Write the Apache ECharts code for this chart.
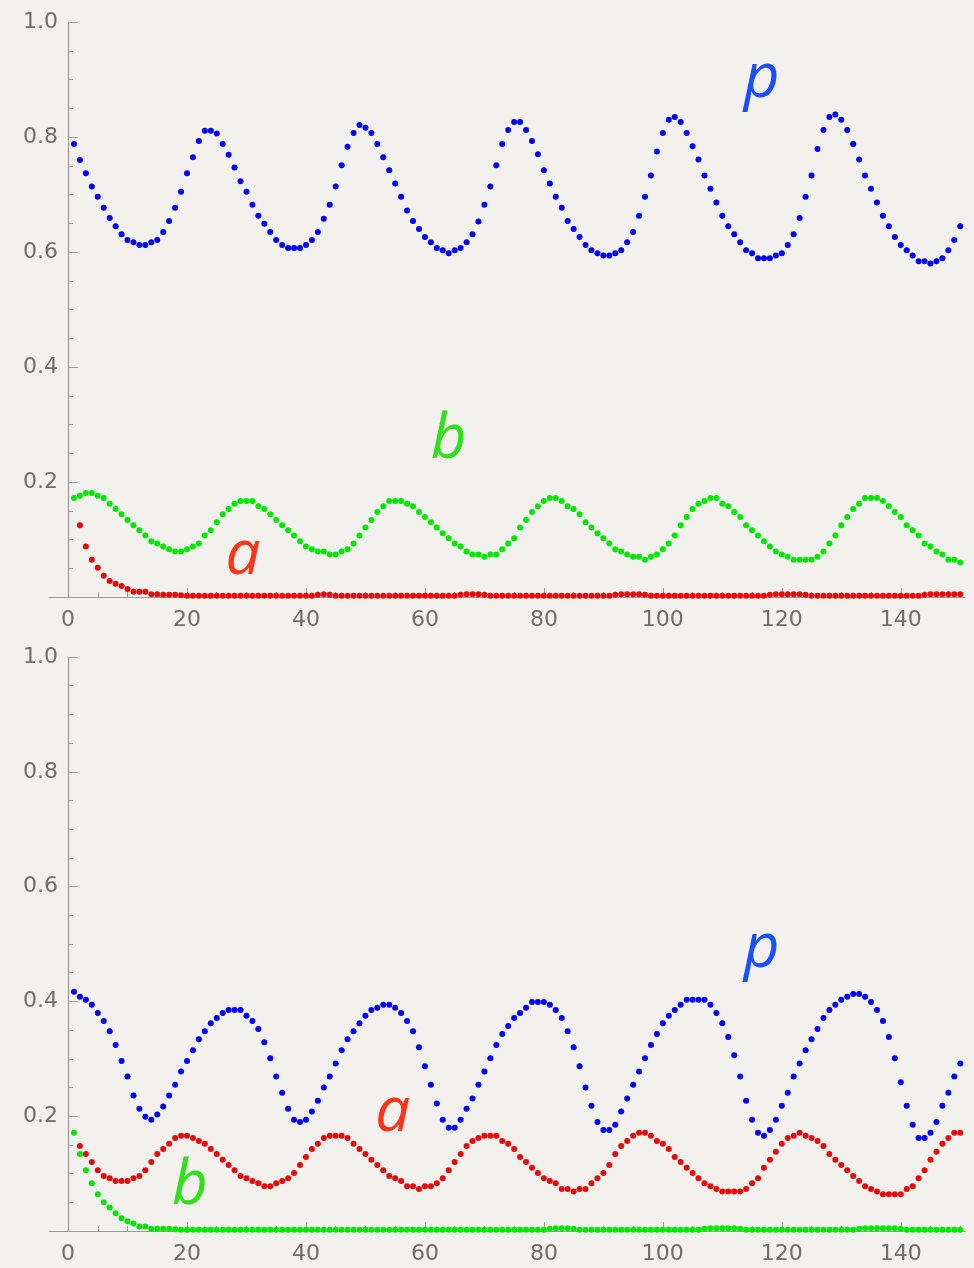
<!DOCTYPE html>
<html>
<head>
<meta charset="utf-8">
<script src="https://cdn.jsdelivr.net/npm/echarts@6/dist/echarts.min.js"></script>
<style>
  html, body { margin: 0; padding: 0; background: #f2f1ed; }
  #chart { width: 974px; height: 1268px; }
</style>
</head>
<body>
<div id="chart"></div>
<script>
// values at t = 1..150
const topP = [
  0.788, 0.760, 0.737, 0.714, 0.696, 0.677, 0.659, 0.645, 0.631, 0.621,
  0.617, 0.612, 0.612, 0.617, 0.621, 0.635, 0.654, 0.677, 0.705, 0.737,
  0.765, 0.793, 0.811, 0.811, 0.806, 0.788, 0.769, 0.747, 0.723, 0.705,
  0.682, 0.663, 0.649, 0.635, 0.621, 0.612, 0.607, 0.607, 0.607, 0.612,
  0.621, 0.635, 0.658, 0.682, 0.714, 0.751, 0.783, 0.807, 0.821, 0.816,
  0.807, 0.788, 0.765, 0.742, 0.719, 0.696, 0.672, 0.654, 0.640, 0.626,
  0.617, 0.607, 0.603, 0.598, 0.603, 0.607, 0.617, 0.631, 0.653, 0.682,
  0.714, 0.751, 0.788, 0.812, 0.826, 0.826, 0.812, 0.793, 0.770, 0.742,
  0.719, 0.696, 0.677, 0.654, 0.640, 0.626, 0.612, 0.603, 0.598, 0.594,
  0.594, 0.598, 0.603, 0.617, 0.635, 0.663, 0.696, 0.733, 0.775, 0.807,
  0.830, 0.835, 0.826, 0.807, 0.784, 0.761, 0.733, 0.710, 0.686, 0.663,
  0.645, 0.631, 0.617, 0.603, 0.598, 0.589, 0.589, 0.589, 0.594, 0.598,
  0.612, 0.631, 0.659, 0.696, 0.733, 0.779, 0.812, 0.835, 0.839, 0.830,
  0.812, 0.788, 0.761, 0.733, 0.710, 0.686, 0.663, 0.645, 0.626, 0.612,
  0.603, 0.594, 0.584, 0.584, 0.580, 0.584, 0.589, 0.603, 0.621, 0.645
];
const topB = [
  0.172, 0.176, 0.181, 0.181, 0.176, 0.172, 0.162, 0.153, 0.144, 0.134,
  0.125, 0.116, 0.107, 0.097, 0.093, 0.088, 0.083, 0.079, 0.079, 0.083,
  0.088, 0.093, 0.107, 0.116, 0.130, 0.144, 0.153, 0.162, 0.167, 0.167,
  0.167, 0.158, 0.153, 0.144, 0.134, 0.125, 0.116, 0.107, 0.097, 0.088,
  0.083, 0.079, 0.079, 0.074, 0.074, 0.079, 0.083, 0.093, 0.107, 0.121,
  0.134, 0.148, 0.158, 0.167, 0.167, 0.167, 0.162, 0.158, 0.148, 0.139,
  0.130, 0.121, 0.111, 0.102, 0.093, 0.088, 0.079, 0.074, 0.074, 0.070,
  0.074, 0.074, 0.083, 0.093, 0.102, 0.121, 0.134, 0.148, 0.158, 0.167,
  0.172, 0.172, 0.167, 0.158, 0.153, 0.144, 0.130, 0.121, 0.111, 0.102,
  0.093, 0.083, 0.079, 0.074, 0.070, 0.070, 0.065, 0.070, 0.074, 0.083,
  0.093, 0.107, 0.125, 0.139, 0.153, 0.162, 0.167, 0.172, 0.172, 0.162,
  0.158, 0.148, 0.139, 0.125, 0.116, 0.107, 0.097, 0.088, 0.079, 0.074,
  0.070, 0.065, 0.065, 0.065, 0.065, 0.070, 0.079, 0.093, 0.107, 0.125,
  0.139, 0.153, 0.162, 0.172, 0.172, 0.172, 0.167, 0.158, 0.148, 0.139,
  0.125, 0.116, 0.107, 0.093, 0.088, 0.079, 0.074, 0.065, 0.065, 0.060
];
const topA = [
  null,  0.125, 0.088, 0.065, 0.051, 0.037, 0.028, 0.023, 0.019, 0.014,
  0.009, 0.009, 0.009, 0.005, 0.005, 0.004, 0.004, 0.004, 0.003, 0.002,
  0.002, 0.002, 0.002, 0.002, 0.002, 0.002, 0.002, 0.002, 0.002, 0.002,
  0.002, 0.002, 0.002, 0.002, 0.002, 0.002, 0.002, 0.002, 0.002, 0.002,
  0.002, 0.004, 0.005, 0.004, 0.002, 0.002, 0.002, 0.002, 0.002, 0.002,
  0.002, 0.002, 0.002, 0.002, 0.002, 0.002, 0.002, 0.002, 0.002, 0.002,
  0.002, 0.002, 0.002, 0.002, 0.002, 0.004, 0.005, 0.005, 0.005, 0.004,
  0.002, 0.002, 0.002, 0.002, 0.002, 0.002, 0.002, 0.002, 0.002, 0.002,
  0.002, 0.002, 0.002, 0.002, 0.002, 0.002, 0.002, 0.002, 0.002, 0.002,
  0.002, 0.004, 0.005, 0.005, 0.005, 0.005, 0.004, 0.002, 0.002, 0.002,
  0.002, 0.002, 0.002, 0.002, 0.002, 0.002, 0.002, 0.002, 0.002, 0.002,
  0.002, 0.002, 0.002, 0.002, 0.002, 0.002, 0.002, 0.004, 0.005, 0.005,
  0.005, 0.005, 0.005, 0.004, 0.002, 0.002, 0.002, 0.002, 0.002, 0.002,
  0.002, 0.002, 0.002, 0.002, 0.002, 0.002, 0.002, 0.002, 0.002, 0.002,
  0.002, 0.002, 0.002, 0.004, 0.005, 0.005, 0.005, 0.005, 0.005, 0.005
];

const botP = [
  0.417, 0.408, 0.403, 0.394, 0.380, 0.366, 0.348, 0.324, 0.296, 0.269,
  0.236, 0.213, 0.199, 0.194, 0.203, 0.217, 0.236, 0.255, 0.278, 0.296,
  0.315, 0.334, 0.348, 0.362, 0.371, 0.380, 0.385, 0.385, 0.385, 0.375,
  0.366, 0.352, 0.329, 0.301, 0.269, 0.241, 0.213, 0.194, 0.190, 0.194,
  0.208, 0.227, 0.250, 0.269, 0.292, 0.315, 0.334, 0.348, 0.362, 0.375,
  0.385, 0.389, 0.394, 0.394, 0.389, 0.380, 0.366, 0.348, 0.320, 0.287,
  0.255, 0.222, 0.194, 0.180, 0.180, 0.194, 0.213, 0.231, 0.255, 0.278,
  0.301, 0.324, 0.343, 0.357, 0.371, 0.380, 0.389, 0.399, 0.399, 0.399,
  0.394, 0.385, 0.371, 0.348, 0.320, 0.287, 0.250, 0.218, 0.190, 0.176,
  0.176, 0.185, 0.208, 0.231, 0.255, 0.278, 0.301, 0.324, 0.343, 0.362,
  0.375, 0.385, 0.394, 0.403, 0.403, 0.403, 0.403, 0.394, 0.380, 0.362,
  0.338, 0.306, 0.269, 0.227, 0.194, 0.171, 0.166, 0.176, 0.194, 0.218,
  0.241, 0.269, 0.292, 0.315, 0.334, 0.352, 0.371, 0.385, 0.394, 0.403,
  0.408, 0.413, 0.413, 0.408, 0.399, 0.385, 0.366, 0.338, 0.301, 0.259,
  0.218, 0.185, 0.162, 0.162, 0.171, 0.190, 0.218, 0.241, 0.269, 0.292
];
const botA = [
  null,  0.148, 0.134, 0.120, 0.106, 0.096, 0.092, 0.087, 0.087, 0.087,
  0.092, 0.096, 0.106, 0.120, 0.134, 0.143, 0.152, 0.162, 0.166, 0.166,
  0.162, 0.157, 0.152, 0.143, 0.134, 0.124, 0.115, 0.106, 0.096, 0.092,
  0.087, 0.083, 0.078, 0.078, 0.083, 0.087, 0.092, 0.101, 0.115, 0.129,
  0.143, 0.152, 0.162, 0.166, 0.166, 0.166, 0.162, 0.152, 0.143, 0.134,
  0.124, 0.115, 0.106, 0.096, 0.092, 0.087, 0.078, 0.078, 0.073, 0.078,
  0.078, 0.083, 0.092, 0.106, 0.120, 0.134, 0.148, 0.157, 0.162, 0.166,
  0.166, 0.166, 0.157, 0.152, 0.143, 0.129, 0.120, 0.110, 0.101, 0.092,
  0.087, 0.083, 0.073, 0.073, 0.069, 0.073, 0.073, 0.083, 0.092, 0.101,
  0.115, 0.134, 0.148, 0.157, 0.166, 0.171, 0.171, 0.166, 0.157, 0.152,
  0.143, 0.129, 0.120, 0.110, 0.101, 0.092, 0.083, 0.078, 0.073, 0.069,
  0.069, 0.069, 0.069, 0.073, 0.083, 0.092, 0.110, 0.124, 0.138, 0.152,
  0.162, 0.166, 0.171, 0.166, 0.162, 0.157, 0.148, 0.134, 0.124, 0.115,
  0.106, 0.096, 0.087, 0.078, 0.073, 0.069, 0.064, 0.064, 0.064, 0.064,
  0.073, 0.078, 0.092, 0.106, 0.124, 0.138, 0.152, 0.162, 0.171, 0.171
];
const botB = [
  0.171, 0.134, 0.106, 0.083, 0.064, 0.050, 0.041, 0.031, 0.022, 0.017,
  0.013, 0.008, 0.008, 0.004, 0.004, 0.004, 0.004, 0.003, 0.002, 0.002,
  0.002, 0.002, 0.002, 0.002, 0.002, 0.002, 0.002, 0.002, 0.002, 0.002,
  0.002, 0.002, 0.002, 0.002, 0.002, 0.002, 0.002, 0.002, 0.002, 0.002,
  0.002, 0.002, 0.002, 0.002, 0.002, 0.002, 0.002, 0.002, 0.002, 0.002,
  0.002, 0.002, 0.002, 0.002, 0.002, 0.002, 0.002, 0.002, 0.002, 0.002,
  0.002, 0.002, 0.002, 0.002, 0.002, 0.002, 0.002, 0.002, 0.002, 0.002,
  0.002, 0.002, 0.002, 0.002, 0.002, 0.002, 0.002, 0.002, 0.002, 0.002,
  0.004, 0.005, 0.005, 0.005, 0.004, 0.002, 0.002, 0.002, 0.002, 0.002,
  0.002, 0.002, 0.002, 0.002, 0.002, 0.002, 0.002, 0.002, 0.002, 0.002,
  0.002, 0.002, 0.002, 0.002, 0.002, 0.002, 0.004, 0.005, 0.005, 0.005,
  0.005, 0.005, 0.004, 0.002, 0.002, 0.002, 0.002, 0.002, 0.002, 0.002,
  0.002, 0.002, 0.002, 0.002, 0.002, 0.002, 0.002, 0.002, 0.002, 0.002,
  0.002, 0.002, 0.004, 0.005, 0.005, 0.005, 0.005, 0.005, 0.005, 0.004,
  0.002, 0.002, 0.002, 0.002, 0.002, 0.002, 0.002, 0.002, 0.002, 0.002
];

const xTicks = [0, 20, 40, 60, 80, 100, 120, 140];

const BLUE = '#0000ff';
const GREEN = '#00e800';
const RED = '#e80a0a';
const axisGray = '#9a9a9a';
const labelGray = '#6e6e6e';
const tickFont = "'DejaVu Sans', sans-serif";

// t = index + 1, nulls dropped
function pts(arr) {
  return arr.map((v, i) => [i + 1, v]).filter(d => d[1] !== null);
}

function xAxisFor(gridIndex) {
  return {
    type: 'value', gridIndex,
    min: -3.2, max: 150.8, splitNumber: 8,
    axisLine: { onZero: false, lineStyle: { color: axisGray, width: 1.2 } },
    axisTick: { inside: true, length: 9, customValues: xTicks, lineStyle: { color: axisGray } },
    minorTick: { show: true, splitNumber: 4, length: 5, lineStyle: { color: axisGray } },
    axisLabel: { customValues: xTicks, margin: 12, color: labelGray, fontFamily: tickFont, fontSize: 22 },
    splitLine: { show: false },
    minorSplitLine: { show: false },
  };
}

function yAxisFor(gridIndex) {
  return {
    type: 'value', gridIndex,
    min: 0, max: 1, interval: 0.2,
    axisLine: { show: true, onZero: true, lineStyle: { color: axisGray, width: 1.2 } },
    axisTick: { show: true, inside: true, length: 10, lineStyle: { color: axisGray } },
    minorTick: { show: true, splitNumber: 4, length: 5, lineStyle: { color: axisGray } },
    // labels are laid out from the grid edge, not from the shifted axis line
    axisLabel: {
      showMinLabel: false, margin: -9, color: labelGray, fontFamily: tickFont, fontSize: 22,
      formatter: v => v.toFixed(1),
    },
    splitLine: { show: false },
  };
}

// the italic series names drawn inside the plot
function tag(text, x, y, color) {
  return {
    symbol: 'circle', symbolSize: 1, silent: true,
    itemStyle: { color: 'rgba(0,0,0,0)' },
    label: {
      show: true, position: 'inside', formatter: text, color,
      fontFamily: "'Open Sans', 'Noto Sans', sans-serif", fontStyle: 'italic', fontSize: 62,
    },
    data: [{ coord: [x, y] }],
  };
}

function dots(gridIndex, arr, color, mark) {
  return {
    type: 'scatter', xAxisIndex: gridIndex, yAxisIndex: gridIndex,
    data: pts(arr), symbolSize: 6, silent: true,
    itemStyle: { color, opacity: 1 },
    markPoint: mark,
  };
}

const chart = echarts.init(document.getElementById('chart'));
chart.setOption({
  animation: false,
  backgroundColor: '#f2f1ed',
  grid: [
    { left: 49, top: 22, width: 916, height: 575 },
    { left: 49, top: 657, width: 916, height: 574 },
  ],
  xAxis: [xAxisFor(0), xAxisFor(1)],
  yAxis: [yAxisFor(0), yAxisFor(1)],
  series: [
    dots(0, topB, GREEN, tag('b', 64.0, 0.273, '#2fe01a')),
    dots(0, topA, RED, tag('a', 29.4, 0.071, '#ff3418')),
    dots(0, topP, BLUE, tag('p', 116.6, 0.900, '#1a4fff')),
    dots(1, botA, RED, tag('a', 54.6, 0.205, '#ff3418')),
    dots(1, botB, GREEN, tag('b', 20.5, 0.078, '#2fe01a')),
    dots(1, botP, BLUE, tag('p', 116.6, 0.491, '#1a4fff')),
  ],
});
window.addEventListener('resize', () => chart.resize());
</script>
</body>
</html>
